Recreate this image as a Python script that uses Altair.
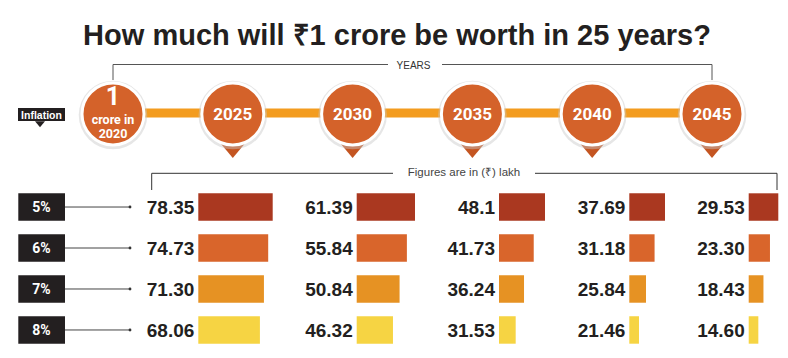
import altair as alt
import pandas as pd

# ---------------- data ----------------
years = [2025, 2030, 2035, 2040, 2045]
inflation = ["5%", "6%", "7%", "8%"]
values_2025 = [78.35, 74.73, 71.30, 68.06]
values_2030 = [61.39, 55.84, 50.84, 46.32]
values_2035 = [48.10, 41.73, 36.24, 31.53]
values_2040 = [37.69, 31.18, 25.84, 21.46]
values_2045 = [29.53, 23.30, 18.43, 14.60]
labels_2025 = ["78.35", "74.73", "71.30", "68.06"]
labels_2030 = ["61.39", "55.84", "50.84", "46.32"]
labels_2035 = ["48.1", "41.73", "36.24", "31.53"]
labels_2040 = ["37.69", "31.18", "25.84", "21.46"]
labels_2045 = ["29.53", "23.30", "18.43", "14.60"]
timeline_years = [2020, 2025, 2030, 2035, 2040, 2045]
timeline_labels = ["1 crore in 2020", "2025", "2030", "2035", "2040", "2045"]

title_text = "How much will \u20b91 crore be worth in 25 years?"
years_text = "YEARS"
unit_text = "Figures are in (\u20b9) lakh"
inflation_text = "Inflation"
start_big = "1"
start_lines = ["crore in", "2020"]

values = [values_2025, values_2030, values_2035, values_2040, values_2045]
labels = [labels_2025, labels_2030, labels_2035, labels_2040, labels_2045]

# ---------------- layout / style ----------------
W, H = 772, 342
OFF = 8


def px(v):
    return v - OFF


SANS = "Liberation Sans, Arial, sans-serif"
ROBOTO = "Roboto, sans-serif"
DARK = "#231F20"
bar_colors = ["#AA3820", "#D9652B", "#E69223", "#F6D443"]
CIRCLE = "#D4622A"
TRI = "#C45521"
TIMELINE = "#F39C1F"

# per-column bar scale layout (bar start px, top-bar end px, domain minimum)
col_x0 = [198.3, 356.7, 499.0, 629.3, 748.7]
col_x1 = [272.7, 415.0, 545.0, 665.0, 778.3]
col_dmin = [18.5, 21.5, 22.1, 15.4, 7.4]

row_scale = alt.Scale(type="band", domain=inflation, range=[px(193.3), px(343.7)],
                      paddingInner=0.33, paddingOuter=0)
color_scale = alt.Scale(domain=inflation, range=bar_colors)
year_scale = alt.Scale(type="linear", domain=[2020, 2045], range=[px(113), px(712)],
                       zero=False, nice=False)

ROW_Y = alt.Y("inflation:N", scale=row_scale, axis=None)
ROW_YC = alt.Y("inflation:N", scale=row_scale, axis=None, bandPosition=0.5)
YEAR_X = alt.X("year:Q", scale=year_scale, axis=None)

one = pd.DataFrame({"k": [0]})
layers = []

# ---------------- title ----------------
layers.append(alt.Chart(one).mark_text(
    text=title_text, font=SANS, fontSize=29, fontWeight="bold", color=DARK,
    align="center", baseline="alphabetic").encode(
    x=alt.value(px(397)), y=alt.value(px(45))))

# ---------------- top bracket (YEARS) ----------------
tl = pd.DataFrame({"year": timeline_years, "label": timeline_labels})
span = pd.DataFrame({"start": [min(timeline_years)], "end": [max(timeline_years)]})
layers.append(alt.Chart(span).mark_rule(color="#555555", strokeWidth=1).encode(
    x=alt.X("start:Q", scale=year_scale, axis=None),
    x2="end:Q", y=alt.value(px(64.5))))
layers.append(alt.Chart(span).mark_rule(color="#555555", strokeWidth=1).encode(
    x=alt.X("start:Q", scale=year_scale, axis=None),
    y=alt.value(px(64.5)), y2=alt.value(px(80))))
layers.append(alt.Chart(span).mark_rule(color="#555555", strokeWidth=1).encode(
    x=alt.X("end:Q", scale=year_scale, axis=None),
    y=alt.value(px(64.5)), y2=alt.value(px(80))))
layers.append(alt.Chart(one).mark_rect(color="white").encode(
    x=alt.value(px(388)), x2=alt.value(px(442)),
    y=alt.value(px(59)), y2=alt.value(px(71))))
layers.append(alt.Chart(one).mark_text(
    text=years_text, font=SANS, fontSize=10, color="#333333",
    align="center", baseline="middle").encode(
    x=alt.value(px(413.5)), y=alt.value(px(66))))

# ---------------- timeline ----------------
layers.append(alt.Chart(span).mark_rule(color=TIMELINE, strokeWidth=9).encode(
    x=alt.X("start:Q", scale=year_scale, axis=None),
    x2="end:Q", y=alt.value(px(113))))
TRI_PATH = "M-1,-0.6L1,-0.6L0,0.6Z"
layers.append(alt.Chart(tl).transform_filter("datum.year > 2020").mark_point(
    shape=TRI_PATH, filled=True, size=784, color=TRI, opacity=1, strokeWidth=0).encode(
    x=YEAR_X, y=alt.value(px(149.6))))
layers.append(alt.Chart(tl).mark_circle(size=4700, color="#c8c8c8", opacity=0.45).encode(
    x=YEAR_X, y=alt.value(px(115))))
layers.append(alt.Chart(tl).mark_circle(
    size=3844, color=CIRCLE, opacity=1, stroke="white", strokeWidth=3).encode(
    x=YEAR_X, y=alt.value(px(114))))
layers.append(alt.Chart(tl).transform_filter("datum.year > 2020").mark_text(
    font=ROBOTO, fontSize=17, fontWeight="bold", color="white",
    align="center", baseline="alphabetic").encode(
    x=YEAR_X, y=alt.value(px(120)), text="label:N"))
first = alt.Chart(tl).transform_filter("datum.year == 2020")
layers.append(first.mark_text(
    text=start_big, font=ROBOTO, fontSize=25, fontWeight="bold", color="white",
    align="center", baseline="alphabetic").encode(x=YEAR_X, y=alt.value(px(104.5))))
layers.append(first.mark_text(
    text=start_lines, font=ROBOTO, fontSize=12.5, fontWeight="bold", color="white",
    lineHeight=14.5, align="center", baseline="alphabetic").encode(
    x=YEAR_X, y=alt.value(px(123.5))))

# ---------------- "Inflation" tag ----------------
layers.append(alt.Chart(one).mark_rect(color=DARK).encode(
    x=alt.value(px(18)), x2=alt.value(px(65)),
    y=alt.value(px(108)), y2=alt.value(px(121))))
layers.append(alt.Chart(one).mark_point(
    shape=TRI_PATH, filled=True, size=100, color=DARK, opacity=1, strokeWidth=0).encode(
    x=alt.value(px(40)), y=alt.value(px(124.3))))
layers.append(alt.Chart(one).mark_text(
    text=inflation_text, font=SANS, fontSize=10.5, fontWeight="bold", color="white",
    align="center", baseline="alphabetic").encode(
    x=alt.value(px(41.5)), y=alt.value(px(118.5))))

# ---------------- lower bracket ----------------
for xa, xb in [(151.7, 393), (535, 777)]:
    layers.append(alt.Chart(one).mark_rule(color="#333333", strokeWidth=1).encode(
        x=alt.value(px(xa)), x2=alt.value(px(xb)), y=alt.value(px(173.3))))
for xa in [151.7, 777]:
    layers.append(alt.Chart(one).mark_rule(color="#333333", strokeWidth=1).encode(
        x=alt.value(px(xa)), y=alt.value(px(173.3)), y2=alt.value(px(190))))
layers.append(alt.Chart(one).mark_text(
    text=unit_text, font=SANS, fontSize=11.5, color="#444444",
    align="center", baseline="middle").encode(
    x=alt.value(px(464)), y=alt.value(px(172.5))))

# ---------------- row labels ----------------
rows = pd.DataFrame({"inflation": inflation})
layers.append(alt.Chart(rows).mark_rect(color=DARK).encode(
    x=alt.value(px(18.3)), x2=alt.value(px(65)), y=ROW_Y))
layers.append(alt.Chart(rows).mark_text(
    font=ROBOTO, fontSize=14, fontWeight="bold", color="white",
    align="center", baseline="alphabetic", dy=5).encode(
    x=alt.value(px(41.5)), y=ROW_YC, text="inflation:N"))
layers.append(alt.Chart(rows).mark_rule(color="#444444", strokeWidth=1).encode(
    x=alt.value(px(65)), x2=alt.value(px(130)), y=ROW_YC))
layers.append(alt.Chart(rows).mark_circle(color="#333333", size=8, opacity=1).encode(
    x=alt.value(px(130)), y=ROW_YC))

# ---------------- bars per year column ----------------
for i, yr in enumerate(years):
    df = pd.DataFrame({"inflation": inflation, "value": values[i], "label": labels[i]})
    xs = alt.Scale(type="linear", domain=[col_dmin[i], max(values[i])],
                   range=[px(col_x0[i]), px(col_x1[i])], zero=False, nice=False)
    layers.append(alt.Chart(df).mark_bar(strokeWidth=0).encode(
        x=alt.X("value:Q", scale=xs, axis=None),
        x2=alt.datum(col_dmin[i]),
        y=ROW_Y,
        color=alt.Color("inflation:N", scale=color_scale, legend=None)))
    layers.append(alt.Chart(df).mark_text(
        font=SANS, fontSize=19, fontWeight="bold", color=DARK,
        align="right", baseline="alphabetic", dy=7).encode(
        x=alt.value(px(col_x0[i]) - 4), y=ROW_YC, text="label:N"))

chart = alt.layer(*layers).resolve_scale(
    x="independent", y="independent"
).properties(
    width=W, height=H, padding=0, autosize=alt.AutoSizeParams(type="none"),
    background="white"
).configure_view(stroke=None)

chart.save("out.html", embed_options={"renderer": "svg", "actions": False})
